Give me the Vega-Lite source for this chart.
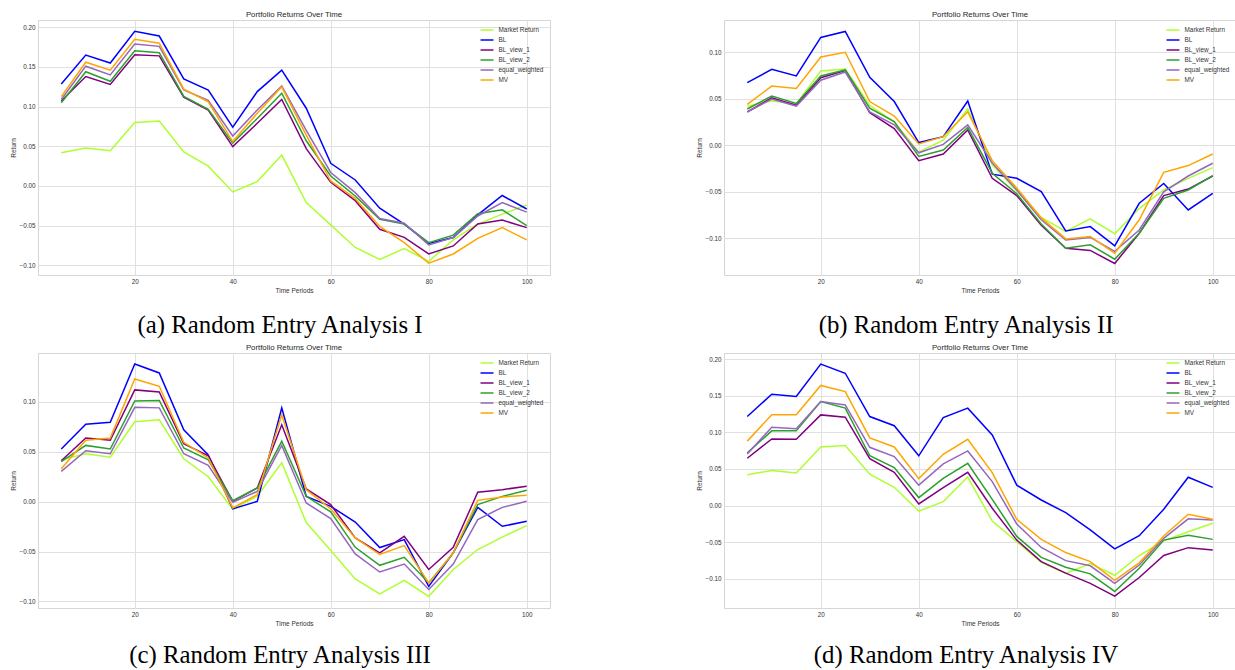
{
  "$schema": "https://vega.github.io/schema/vega-lite/v6.json",
  "background": "white",
  "padding": {"left": 9, "top": 10, "right": 0, "bottom": 0},
  "spacing": 4,
  "datasets": {
    "a": [
      {"t":5,"Market Return":0.042,"BL":0.1285,"BL_view_1":0.107,"BL_view_2":0.105,"equal_weighted":0.109,"MV":0.1126},
      {"t":10,"Market Return":0.048,"BL":0.165,"BL_view_1":0.138,"BL_view_2":0.144,"equal_weighted":0.151,"MV":0.156},
      {"t":15,"Market Return":0.0445,"BL":0.155,"BL_view_1":0.128,"BL_view_2":0.132,"equal_weighted":0.140,"MV":0.146},
      {"t":20,"Market Return":0.080,"BL":0.195,"BL_view_1":0.1655,"BL_view_2":0.1705,"equal_weighted":0.179,"MV":0.185},
      {"t":25,"Market Return":0.082,"BL":0.189,"BL_view_1":0.164,"BL_view_2":0.168,"equal_weighted":0.176,"MV":0.180},
      {"t":30,"Market Return":0.043,"BL":0.135,"BL_view_1":0.112,"BL_view_2":0.113,"equal_weighted":0.121,"MV":0.122},
      {"t":35,"Market Return":0.025,"BL":0.121,"BL_view_1":0.0958,"BL_view_2":0.0966,"equal_weighted":0.108,"MV":0.106},
      {"t":40,"Market Return":-0.0075,"BL":0.074,"BL_view_1":0.0496,"BL_view_2":0.054,"equal_weighted":0.063,"MV":0.056},
      {"t":45,"Market Return":0.0055,"BL":0.119,"BL_view_1":0.079,"BL_view_2":0.085,"equal_weighted":0.0958,"MV":0.0916},
      {"t":50,"Market Return":0.039,"BL":0.146,"BL_view_1":0.109,"BL_view_2":0.117,"equal_weighted":0.126,"MV":0.125},
      {"t":55,"Market Return":-0.021,"BL":0.098,"BL_view_1":0.047,"BL_view_2":0.057,"equal_weighted":0.070,"MV":0.064},
      {"t":60,"Market Return":-0.049,"BL":0.0286,"BL_view_1":0.0046,"BL_view_2":0.0126,"equal_weighted":0.017,"MV":0.0063},
      {"t":65,"Market Return":-0.0775,"BL":0.0076,"BL_view_1":-0.0185,"BL_view_2":-0.0126,"equal_weighted":-0.0084,"MV":-0.016},
      {"t":70,"Market Return":-0.0925,"BL":-0.028,"BL_view_1":-0.0546,"BL_view_2":-0.042,"equal_weighted":-0.041,"MV":-0.051},
      {"t":75,"Market Return":-0.079,"BL":-0.048,"BL_view_1":-0.0647,"BL_view_2":-0.048,"equal_weighted":-0.047,"MV":-0.0714},
      {"t":80,"Market Return":-0.095,"BL":-0.0725,"BL_view_1":-0.0857,"BL_view_2":-0.0714,"equal_weighted":-0.0743,"MV":-0.0974},
      {"t":85,"Market Return":-0.068,"BL":-0.065,"BL_view_1":-0.0756,"BL_view_2":-0.062,"equal_weighted":-0.065,"MV":-0.0857},
      {"t":90,"Market Return":-0.048,"BL":-0.0365,"BL_view_1":-0.048,"BL_view_2":-0.035,"equal_weighted":-0.0378,"MV":-0.066},
      {"t":95,"Market Return":-0.0355,"BL":-0.012,"BL_view_1":-0.043,"BL_view_2":-0.030,"equal_weighted":-0.021,"MV":-0.0525},
      {"t":100,"Market Return":-0.024,"BL":-0.029,"BL_view_1":-0.0525,"BL_view_2":-0.050,"equal_weighted":-0.033,"MV":-0.068}
    ],
    "b": [
      {"t":5,"Market Return":0.042,"BL":0.0673,"BL_view_1":0.036,"BL_view_2":0.039,"equal_weighted":0.0358,"MV":0.044},
      {"t":10,"Market Return":0.048,"BL":0.0816,"BL_view_1":0.051,"BL_view_2":0.053,"equal_weighted":0.0498,"MV":0.0637},
      {"t":15,"Market Return":0.0445,"BL":0.0745,"BL_view_1":0.043,"BL_view_2":0.045,"equal_weighted":0.0422,"MV":0.061},
      {"t":20,"Market Return":0.080,"BL":0.116,"BL_view_1":0.0727,"BL_view_2":0.0745,"equal_weighted":0.070,"MV":0.095},
      {"t":25,"Market Return":0.082,"BL":0.1224,"BL_view_1":0.0805,"BL_view_2":0.081,"equal_weighted":0.0788,"MV":0.100},
      {"t":30,"Market Return":0.043,"BL":0.073,"BL_view_1":0.035,"BL_view_2":0.040,"equal_weighted":0.036,"MV":0.047},
      {"t":35,"Market Return":0.025,"BL":0.047,"BL_view_1":0.018,"BL_view_2":0.0254,"equal_weighted":0.022,"MV":0.0315},
      {"t":40,"Market Return":-0.0075,"BL":0.003,"BL_view_1":-0.0165,"BL_view_2":-0.012,"equal_weighted":-0.008,"MV":0.0014},
      {"t":45,"Market Return":0.0055,"BL":0.0093,"BL_view_1":-0.0093,"BL_view_2":-0.005,"equal_weighted":0.001,"MV":0.0093},
      {"t":50,"Market Return":0.039,"BL":0.0476,"BL_view_1":0.0165,"BL_view_2":0.0193,"equal_weighted":0.022,"MV":0.036},
      {"t":55,"Market Return":-0.021,"BL":-0.031,"BL_view_1":-0.0354,"BL_view_2":-0.030,"equal_weighted":-0.019,"MV":-0.0165},
      {"t":60,"Market Return":-0.049,"BL":-0.0354,"BL_view_1":-0.054,"BL_view_2":-0.052,"equal_weighted":-0.048,"MV":-0.046},
      {"t":65,"Market Return":-0.0775,"BL":-0.0497,"BL_view_1":-0.086,"BL_view_2":-0.0845,"equal_weighted":-0.080,"MV":-0.078},
      {"t":70,"Market Return":-0.0925,"BL":-0.092,"BL_view_1":-0.1106,"BL_view_2":-0.1106,"equal_weighted":-0.1017,"MV":-0.1006},
      {"t":75,"Market Return":-0.079,"BL":-0.0874,"BL_view_1":-0.113,"BL_view_2":-0.107,"equal_weighted":-0.099,"MV":-0.098},
      {"t":80,"Market Return":-0.095,"BL":-0.108,"BL_view_1":-0.127,"BL_view_2":-0.1224,"equal_weighted":-0.114,"MV":-0.116},
      {"t":85,"Market Return":-0.068,"BL":-0.0623,"BL_view_1":-0.0945,"BL_view_2":-0.0945,"equal_weighted":-0.091,"MV":-0.080},
      {"t":90,"Market Return":-0.048,"BL":-0.041,"BL_view_1":-0.054,"BL_view_2":-0.057,"equal_weighted":-0.050,"MV":-0.029},
      {"t":95,"Market Return":-0.0355,"BL":-0.0695,"BL_view_1":-0.047,"BL_view_2":-0.048,"equal_weighted":-0.033,"MV":-0.0218},
      {"t":100,"Market Return":-0.024,"BL":-0.0516,"BL_view_1":-0.033,"BL_view_2":-0.0326,"equal_weighted":-0.0193,"MV":-0.0093}
    ],
    "c": [
      {"t":5,"Market Return":0.042,"BL":0.0528,"BL_view_1":0.041,"BL_view_2":0.040,"equal_weighted":0.0304,"MV":0.033},
      {"t":10,"Market Return":0.048,"BL":0.0775,"BL_view_1":0.0638,"BL_view_2":0.0564,"equal_weighted":0.051,"MV":0.0615},
      {"t":15,"Market Return":0.0445,"BL":0.0795,"BL_view_1":0.0615,"BL_view_2":0.0528,"equal_weighted":0.048,"MV":0.0638},
      {"t":20,"Market Return":0.080,"BL":0.138,"BL_view_1":0.112,"BL_view_2":0.101,"equal_weighted":0.0945,"MV":0.123},
      {"t":25,"Market Return":0.082,"BL":0.129,"BL_view_1":0.110,"BL_view_2":0.1015,"equal_weighted":0.094,"MV":0.1156},
      {"t":30,"Market Return":0.043,"BL":0.0721,"BL_view_1":0.058,"BL_view_2":0.0538,"equal_weighted":0.048,"MV":0.0595},
      {"t":35,"Market Return":0.025,"BL":0.0468,"BL_view_1":0.046,"BL_view_2":0.042,"equal_weighted":0.0364,"MV":0.0438},
      {"t":40,"Market Return":-0.0075,"BL":-0.0073,"BL_view_1":0.0003,"BL_view_2":0.001,"equal_weighted":-0.0007,"MV":-0.0063},
      {"t":45,"Market Return":0.0055,"BL":0.0003,"BL_view_1":0.0137,"BL_view_2":0.0137,"equal_weighted":0.0103,"MV":0.007},
      {"t":50,"Market Return":0.039,"BL":0.0939,"BL_view_1":0.077,"BL_view_2":0.0605,"equal_weighted":0.0564,"MV":0.087},
      {"t":55,"Market Return":-0.021,"BL":0.0053,"BL_view_1":0.0127,"BL_view_2":0.0053,"equal_weighted":-0.0013,"MV":0.012},
      {"t":60,"Market Return":-0.049,"BL":-0.0047,"BL_view_1":-0.003,"BL_view_2":-0.0103,"equal_weighted":-0.017,"MV":-0.0073},
      {"t":65,"Market Return":-0.0775,"BL":-0.0204,"BL_view_1":-0.0364,"BL_view_2":-0.0458,"equal_weighted":-0.0524,"MV":-0.0364},
      {"t":70,"Market Return":-0.0925,"BL":-0.046,"BL_view_1":-0.0514,"BL_view_2":-0.0638,"equal_weighted":-0.0705,"MV":-0.053},
      {"t":75,"Market Return":-0.079,"BL":-0.038,"BL_view_1":-0.0347,"BL_view_2":-0.0558,"equal_weighted":-0.0625,"MV":-0.044},
      {"t":80,"Market Return":-0.095,"BL":-0.085,"BL_view_1":-0.068,"BL_view_2":-0.0815,"equal_weighted":-0.088,"MV":-0.0815},
      {"t":85,"Market Return":-0.068,"BL":-0.0514,"BL_view_1":-0.0458,"BL_view_2":-0.0514,"equal_weighted":-0.0625,"MV":-0.0514},
      {"t":90,"Market Return":-0.048,"BL":-0.0057,"BL_view_1":0.0094,"BL_view_2":-0.003,"equal_weighted":-0.018,"MV":0.0013},
      {"t":95,"Market Return":-0.0355,"BL":-0.0247,"BL_view_1":0.012,"BL_view_2":0.0053,"equal_weighted":-0.0057,"MV":0.0047},
      {"t":100,"Market Return":-0.024,"BL":-0.0197,"BL_view_1":0.0154,"BL_view_2":0.0114,"equal_weighted":0.0003,"MV":0.0063}
    ],
    "d": [
      {"t":5,"Market Return":0.042,"BL":0.1215,"BL_view_1":0.0646,"BL_view_2":0.072,"equal_weighted":0.0705,"MV":0.088},
      {"t":10,"Market Return":0.048,"BL":0.152,"BL_view_1":0.091,"BL_view_2":0.102,"equal_weighted":0.107,"MV":0.124},
      {"t":15,"Market Return":0.0445,"BL":0.149,"BL_view_1":0.0905,"BL_view_2":0.102,"equal_weighted":0.105,"MV":0.124},
      {"t":20,"Market Return":0.080,"BL":0.193,"BL_view_1":0.1238,"BL_view_2":0.142,"equal_weighted":0.142,"MV":0.164},
      {"t":25,"Market Return":0.082,"BL":0.1806,"BL_view_1":0.1206,"BL_view_2":0.133,"equal_weighted":0.1374,"MV":0.1556},
      {"t":30,"Market Return":0.043,"BL":0.1215,"BL_view_1":0.0642,"BL_view_2":0.068,"equal_weighted":0.0796,"MV":0.0924},
      {"t":35,"Market Return":0.025,"BL":0.109,"BL_view_1":0.0455,"BL_view_2":0.052,"equal_weighted":0.0669,"MV":0.080},
      {"t":40,"Market Return":-0.0075,"BL":0.068,"BL_view_1":0.0023,"BL_view_2":0.011,"equal_weighted":0.028,"MV":0.0369},
      {"t":45,"Market Return":0.0055,"BL":0.120,"BL_view_1":0.0246,"BL_view_2":0.0373,"equal_weighted":0.057,"MV":0.070},
      {"t":50,"Market Return":0.039,"BL":0.133,"BL_view_1":0.0455,"BL_view_2":0.0578,"equal_weighted":0.0746,"MV":0.0905},
      {"t":55,"Market Return":-0.021,"BL":0.0965,"BL_view_1":-0.0036,"BL_view_2":0.0086,"equal_weighted":0.0328,"MV":0.045},
      {"t":60,"Market Return":-0.049,"BL":0.028,"BL_view_1":-0.047,"BL_view_2":-0.042,"equal_weighted":-0.025,"MV":-0.0187},
      {"t":65,"Market Return":-0.0775,"BL":0.0077,"BL_view_1":-0.0764,"BL_view_2":-0.0705,"equal_weighted":-0.057,"MV":-0.046},
      {"t":70,"Market Return":-0.0925,"BL":-0.0096,"BL_view_1":-0.092,"BL_view_2":-0.084,"equal_weighted":-0.075,"MV":-0.064},
      {"t":75,"Market Return":-0.079,"BL":-0.033,"BL_view_1":-0.106,"BL_view_2":-0.093,"equal_weighted":-0.082,"MV":-0.0764},
      {"t":80,"Market Return":-0.095,"BL":-0.059,"BL_view_1":-0.1233,"BL_view_2":-0.117,"equal_weighted":-0.106,"MV":-0.102},
      {"t":85,"Market Return":-0.068,"BL":-0.041,"BL_view_1":-0.098,"BL_view_2":-0.0855,"equal_weighted":-0.081,"MV":-0.078},
      {"t":90,"Market Return":-0.048,"BL":-0.005,"BL_view_1":-0.068,"BL_view_2":-0.047,"equal_weighted":-0.0446,"MV":-0.0414},
      {"t":95,"Market Return":-0.0355,"BL":0.0387,"BL_view_1":-0.0573,"BL_view_2":-0.0405,"equal_weighted":-0.018,"MV":-0.0118},
      {"t":100,"Market Return":-0.024,"BL":0.025,"BL_view_1":-0.0605,"BL_view_2":-0.046,"equal_weighted":-0.0196,"MV":-0.0187}
    ]
  },
  "vconcat": [
    {
      "spacing": 144,
      "hconcat": [
        {
          "title": {"text": "(a) Random Entry Analysis I", "orient": "bottom", "anchor": "middle", "font": "Liberation Serif", "fontSize": 24.8, "fontWeight": "normal", "color": "black", "offset": 19},
          "vconcat": [{
            "width": 512, "height": 255,
            "data": {"name": "a"},
            "title": {"text": "Portfolio Returns Over Time", "anchor": "middle", "font": "Liberation Sans", "fontSize": 7.8, "fontWeight": "normal", "color": "#262626", "baseline": "alphabetic", "offset": -5},
            "transform": [{"fold": ["Market Return", "BL", "BL_view_1", "BL_view_2", "equal_weighted", "MV"], "as": ["series", "value"]}],
            "mark": {"type": "line", "strokeWidth": 1.5},
            "encoding": {
              "x": {"field": "t", "type": "quantitative", "scale": {"domain": [0.25, 104.75], "nice": false, "zero": false}, "axis": {"values": [20, 40, 60, 80, 100], "title": "Time Periods"}},
              "y": {"field": "value", "type": "quantitative", "scale": {"domain": [-0.1122, 0.2092], "nice": false, "zero": false}, "axis": {"values": [-0.1, -0.05, 0, 0.05, 0.1, 0.15, 0.2], "format": ".2f", "title": "Return"}},
              "color": {"field": "series", "type": "nominal", "scale": {"domain": ["Market Return", "BL", "BL_view_1", "BL_view_2", "equal_weighted", "MV"], "range": ["#adff2f", "#0000ff", "#800080", "#2ca02c", "#9467bd", "#ffa500"]}, "legend": {"title": null}}
            }
          }],
          "resolve": {"scale": {"color": "independent"}, "legend": {"color": "independent"}}
        },
        {
          "title": {"text": "(b) Random Entry Analysis II", "orient": "bottom", "anchor": "middle", "font": "Liberation Serif", "fontSize": 24.8, "fontWeight": "normal", "color": "black", "offset": 19},
          "vconcat": [{
            "width": 512, "height": 255,
            "data": {"name": "b"},
            "title": {"text": "Portfolio Returns Over Time", "anchor": "middle", "font": "Liberation Sans", "fontSize": 7.8, "fontWeight": "normal", "color": "#262626", "baseline": "alphabetic", "offset": -5},
            "transform": [{"fold": ["Market Return", "BL", "BL_view_1", "BL_view_2", "equal_weighted", "MV"], "as": ["series", "value"]}],
            "mark": {"type": "line", "strokeWidth": 1.5},
            "encoding": {
              "x": {"field": "t", "type": "quantitative", "scale": {"domain": [0.25, 104.75], "nice": false, "zero": false}, "axis": {"values": [20, 40, 60, 80, 100], "title": "Time Periods"}},
              "y": {"field": "value", "type": "quantitative", "scale": {"domain": [-0.1394, 0.1347], "nice": false, "zero": false}, "axis": {"values": [-0.1, -0.05, 0, 0.05, 0.1], "format": ".2f", "title": "Return"}},
              "color": {"field": "series", "type": "nominal", "scale": {"domain": ["Market Return", "BL", "BL_view_1", "BL_view_2", "equal_weighted", "MV"], "range": ["#adff2f", "#0000ff", "#800080", "#2ca02c", "#9467bd", "#ffa500"]}, "legend": {"title": null}}
            }
          }],
          "resolve": {"scale": {"color": "independent"}, "legend": {"color": "independent"}}
        }
      ],
      "resolve": {"scale": {"color": "independent"}, "legend": {"color": "independent"}}
    },
    {
      "spacing": 144,
      "hconcat": [
        {
          "title": {"text": "(c) Random Entry Analysis III", "orient": "bottom", "anchor": "middle", "font": "Liberation Serif", "fontSize": 24.8, "fontWeight": "normal", "color": "black", "offset": 16},
          "vconcat": [{
            "width": 512, "height": 255,
            "data": {"name": "c"},
            "title": {"text": "Portfolio Returns Over Time", "anchor": "middle", "font": "Liberation Sans", "fontSize": 7.8, "fontWeight": "normal", "color": "#262626", "baseline": "alphabetic", "offset": -5},
            "transform": [{"fold": ["Market Return", "BL", "BL_view_1", "BL_view_2", "equal_weighted", "MV"], "as": ["series", "value"]}],
            "mark": {"type": "line", "strokeWidth": 1.5},
            "encoding": {
              "x": {"field": "t", "type": "quantitative", "scale": {"domain": [0.25, 104.75], "nice": false, "zero": false}, "axis": {"values": [20, 40, 60, 80, 100], "title": "Time Periods"}},
              "y": {"field": "value", "type": "quantitative", "scale": {"domain": [-0.1066, 0.149], "nice": false, "zero": false}, "axis": {"values": [-0.1, -0.05, 0, 0.05, 0.1], "format": ".2f", "title": "Return"}},
              "color": {"field": "series", "type": "nominal", "scale": {"domain": ["Market Return", "BL", "BL_view_1", "BL_view_2", "equal_weighted", "MV"], "range": ["#adff2f", "#0000ff", "#800080", "#2ca02c", "#9467bd", "#ffa500"]}, "legend": {"title": null}}
            }
          }],
          "resolve": {"scale": {"color": "independent"}, "legend": {"color": "independent"}}
        },
        {
          "title": {"text": "(d) Random Entry Analysis IV", "orient": "bottom", "anchor": "middle", "font": "Liberation Serif", "fontSize": 24.8, "fontWeight": "normal", "color": "black", "offset": 16},
          "vconcat": [{
            "width": 512, "height": 255,
            "data": {"name": "d"},
            "title": {"text": "Portfolio Returns Over Time", "anchor": "middle", "font": "Liberation Sans", "fontSize": 7.8, "fontWeight": "normal", "color": "#262626", "baseline": "alphabetic", "offset": -5},
            "transform": [{"fold": ["Market Return", "BL", "BL_view_1", "BL_view_2", "equal_weighted", "MV"], "as": ["series", "value"]}],
            "mark": {"type": "line", "strokeWidth": 1.5},
            "encoding": {
              "x": {"field": "t", "type": "quantitative", "scale": {"domain": [0.25, 104.75], "nice": false, "zero": false}, "axis": {"values": [20, 40, 60, 80, 100], "title": "Time Periods"}},
              "y": {"field": "value", "type": "quantitative", "scale": {"domain": [-0.1396, 0.2082], "nice": false, "zero": false}, "axis": {"values": [-0.1, -0.05, 0, 0.05, 0.1, 0.15, 0.2], "format": ".2f", "title": "Return"}},
              "color": {"field": "series", "type": "nominal", "scale": {"domain": ["Market Return", "BL", "BL_view_1", "BL_view_2", "equal_weighted", "MV"], "range": ["#adff2f", "#0000ff", "#800080", "#2ca02c", "#9467bd", "#ffa500"]}, "legend": {"title": null}}
            }
          }],
          "resolve": {"scale": {"color": "independent"}, "legend": {"color": "independent"}}
        }
      ],
      "resolve": {"scale": {"color": "independent"}, "legend": {"color": "independent"}}
    }
  ],
  "resolve": {"scale": {"color": "independent"}, "legend": {"color": "independent"}},
  "config": {
    "font": "Liberation Sans",
    "view": {"stroke": "#d6d6d6", "strokeWidth": 1},
    "axis": {"grid": true, "gridColor": "#e0e0e0", "gridWidth": 1, "domain": false, "ticks": false, "labelFont": "Liberation Sans", "labelFontSize": 6.3, "labelColor": "#333333", "labelPadding": 3, "titleFont": "Liberation Sans", "titleFontSize": 6.5, "titleFontWeight": "normal", "titleColor": "#333333", "titlePadding": 3},
    "legend": {"orient": "top-right", "offset": 6, "padding": 0, "symbolType": "M-2,0H2", "symbolSize": 42, "symbolStrokeWidth": 1.5, "labelFont": "Liberation Sans", "labelFontSize": 6.4, "labelColor": "#333333", "labelOffset": 7.5, "rowPadding": 2}
  }
}
